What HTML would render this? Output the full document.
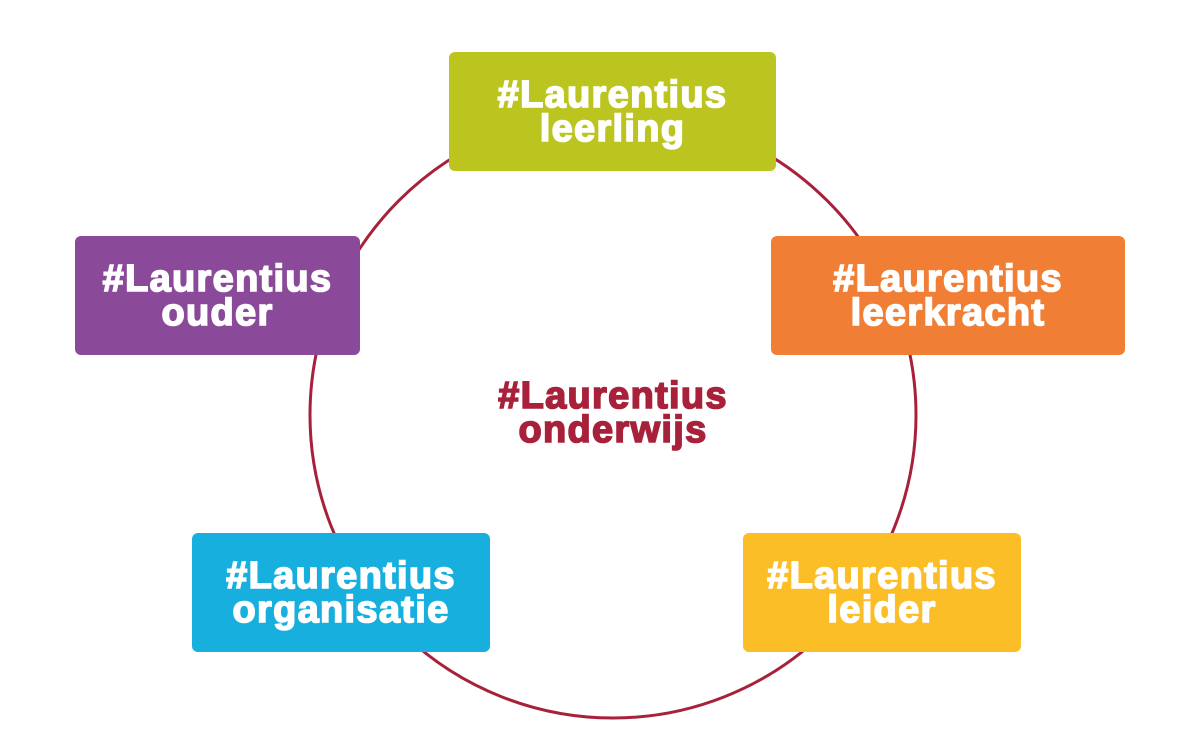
<!DOCTYPE html>
<html><head><meta charset="utf-8"><style>
html,body{margin:0;padding:0;background:#fff;}
body{width:1200px;height:756px;position:relative;overflow:hidden;font-family:"Liberation Sans",Arial,sans-serif;}
.b{position:absolute;border-radius:6px;display:flex;align-items:center;justify-content:center;text-align:center;color:#fff;font-weight:bold;font-size:38px;line-height:34px;letter-spacing:1.3px;-webkit-text-stroke:1.6px currentColor;}
svg{position:absolute;left:0;top:0;}
</style></head><body>
<svg width="1200" height="756"><circle cx="613" cy="415" r="303" fill="none" stroke="#a8213b" stroke-width="3"/></svg>
<div class="b" style="left:449px;top:52px;width:327px;height:119px;background:#bcc51f;">#Laurentius<br>leerling</div>
<div class="b" style="left:75px;top:236px;width:285px;height:119px;background:#8a4a99;">#Laurentius<br>ouder</div>
<div class="b" style="left:771px;top:236px;width:354px;height:119px;background:#f07f35;">#Laurentius<br>leerkracht</div>
<div class="b" style="left:192px;top:533px;width:298px;height:119px;background:#17afdd;">#Laurentius<br>organisatie</div>
<div class="b" style="left:743px;top:533px;width:278px;height:119px;background:#fbbe26;">#Laurentius<br>leider</div>
<div class="b" style="left:463px;top:378px;width:300px;height:70px;color:#a8213b;">#Laurentius<br>onderwijs</div>
</body></html>
